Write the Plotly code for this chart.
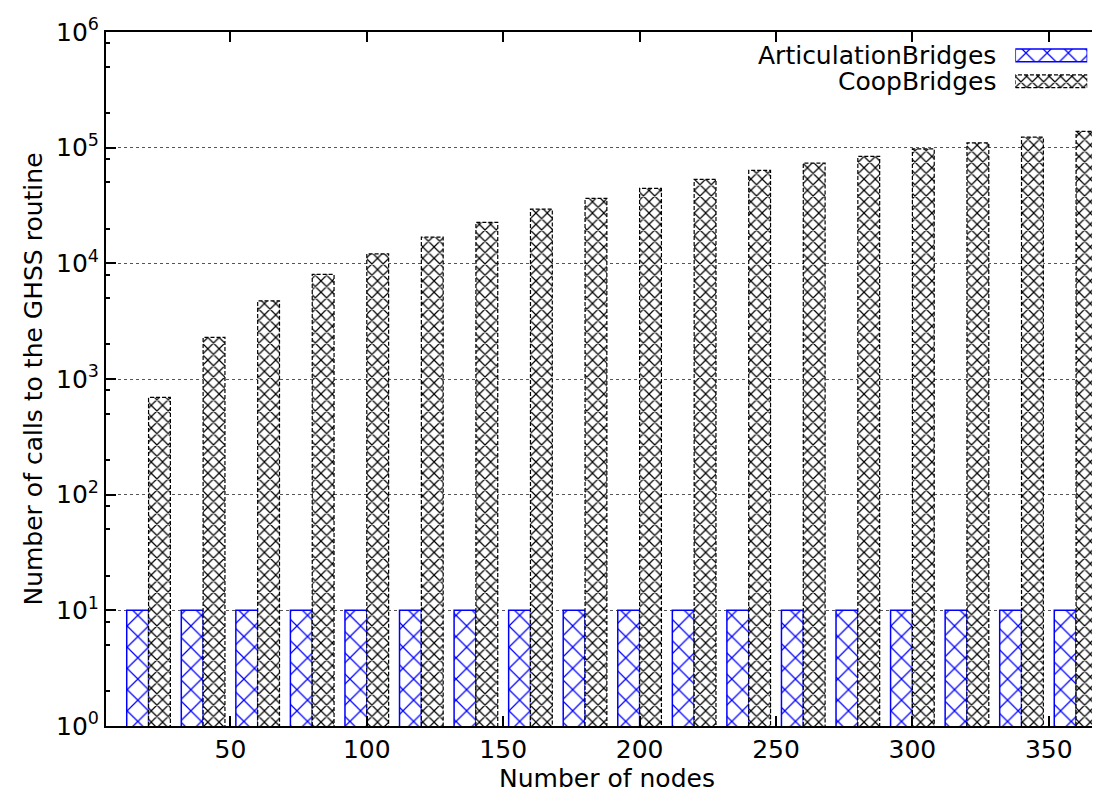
import plotly.graph_objects as go

# ---------------- data ----------------
nodes = [20, 40, 60, 80, 100, 120, 140, 160, 180, 200, 220, 240, 260, 280, 300, 320, 340, 360]
articulation_bridges = [10, 10, 10, 10, 10, 10, 10, 10, 10, 10, 10, 10, 10, 10, 10, 10, 10, 10]
coop_bridges = [693, 2290, 4740, 8020, 12080, 16840, 22570, 29410, 36390, 44410,
                53090, 63530, 73470, 83920, 97680, 110030, 123260, 138040]
series_names = ["ArticulationBridges", "CoopBridges"]
x_tick_vals = [50, 100, 150, 200, 250, 300, 350]
y_tick_vals = [1, 10, 100, 1000, 10000, 100000, 1000000]
y_tick_text = ["10<sup>0</sup>", "10<sup>1</sup>", "10<sup>2</sup>", "10<sup>3</sup>",
               "10<sup>4</sup>", "10<sup>5</sup>", "10<sup>6</sup>"]
y_minor_vals = [2, 5, 8, 20, 50, 80, 200, 500, 800, 2000, 5000, 8000,
                20000, 50000, 80000, 200000, 500000, 800000]
x_title = "Number of nodes"
y_title = "Number of calls to the GHSS routine"

# ---------------- styles ----------------
FONT = "DejaVu Sans"
FS = 25
BW = 8  # bar width in x units
blue_marker = dict(color="white", line=dict(color="#0000ff", width=1.5),
                   pattern=dict(shape="x", fgcolor="#0000ff", bgcolor="white",
                                size=15, solidity=0.16, fillmode="replace"))
coop_marker = dict(color="white", line=dict(color="black", width=0),
                   pattern=dict(shape="x", fgcolor="black", bgcolor="white",
                                size=8, solidity=0.28, fillmode="replace"))

fig = go.Figure()

fig.add_trace(go.Bar(x=nodes, y=articulation_bridges, width=BW, offset=-BW,
                     marker=blue_marker, name=series_names[0], showlegend=False))
fig.add_trace(go.Bar(x=nodes, y=coop_bridges, width=BW, offset=0,
                     marker=coop_marker, name=series_names[1], showlegend=False))

# dashed outline of CoopBridges bars (derived from the data)
ox, oy = [], []
for n, v in zip(nodes, coop_bridges):
    ox += [n, n, n + BW, n + BW, None]
    oy += [1, v, v, 1, None]
fig.add_trace(go.Scatter(x=ox, y=oy, mode="lines", hoverinfo="skip",
                         line=dict(color="black", width=1.2, dash="4px,2px"),
                         showlegend=False))

# ---------------- key (samples on a small helper axis) ----------------
fig.add_trace(go.Bar(x=[1], y=[1], base=0, orientation="h", width=0.49,
                     xaxis="x2", yaxis="y2", marker=blue_marker, showlegend=False))
fig.add_trace(go.Bar(x=[1], y=[0], base=0, orientation="h", width=0.49,
                     xaxis="x2", yaxis="y2", marker=coop_marker, showlegend=False))
fig.add_trace(go.Scatter(x=[0, 1, 1, 0, 0], y=[-0.245, -0.245, 0.245, 0.245, -0.245],
                         mode="lines", xaxis="x2", yaxis="y2", hoverinfo="skip",
                         line=dict(color="black", width=1.2, dash="4px,2px"),
                         showlegend=False))

annotations = [
    dict(text=series_names[0], x=0.890, y=0.9664, xref="paper", yref="paper",
         xanchor="right", yanchor="middle", showarrow=False,
         font=dict(family=FONT, size=FS, color="black")),
    dict(text=series_names[1], x=0.890, y=0.9289, xref="paper", yref="paper",
         xanchor="right", yanchor="middle", showarrow=False,
         font=dict(family=FONT, size=FS, color="black")),
]

fig.update_layout(
    width=1100, height=795,
    margin=dict(l=98, r=0, t=24, b=77),
    paper_bgcolor="white", plot_bgcolor="white",
    font=dict(family=FONT, size=FS, color="black"),
    barmode="overlay",
    showlegend=False,
    annotations=annotations,
    xaxis=dict(
        range=[4.4, 371.7], tickmode="array", tickvals=x_tick_vals,
        ticks="inside", ticklen=10, tickwidth=1.5, tickcolor="black",
        showline=True, linecolor="black", linewidth=2, mirror="allticks",
        showgrid=False, zeroline=False, automargin=False,
        title=dict(text=x_title, standoff=6, font=dict(size=FS)),
        tickfont=dict(size=FS),
    ),
    yaxis=dict(
        type="log", range=[0, 6], tickmode="array",
        tickvals=y_tick_vals, ticktext=y_tick_text,
        ticks="inside", ticklen=10, tickwidth=1.5, tickcolor="black",
        showline=True, linecolor="black", linewidth=2, mirror="allticks",
        showgrid=True, gridcolor="#555555", griddash="dot", gridwidth=1,
        zeroline=False, automargin=False,
        minor=dict(tickmode="array", tickvals=y_minor_vals, ticks="inside",
                   ticklen=4, tickwidth=1.5, tickcolor="black", showgrid=False),
        title=dict(text=y_title, standoff=6, font=dict(size=FS)),
        tickfont=dict(size=FS),
    ),
    xaxis2=dict(domain=[0.9075, 0.9793], range=[0, 1], anchor="y2",
                visible=False, fixedrange=True),
    yaxis2=dict(domain=[0.91016, 0.98514], range=[-0.5, 1.5], anchor="x2",
                visible=False, fixedrange=True),
)

fig.write_html("out.html")
